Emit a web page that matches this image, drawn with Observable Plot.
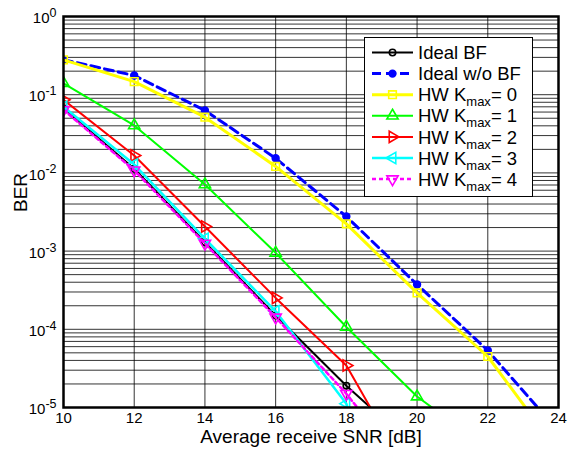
<!DOCTYPE html>
<html><head><meta charset="utf-8">
<script src="https://cdn.jsdelivr.net/npm/d3@7"></script>
<script src="https://cdn.jsdelivr.net/npm/@observablehq/plot@0.6"></script>
<style>body{margin:0;background:#fff;}</style>
</head><body><div id="chart"></div>
<script>
// ---- data ----
const snr = [10, 12, 14, 16, 18, 20, 22, 24];
const berIdealBF   = [0.067, 0.0113, 0.0013, 1.5e-4, 1.9e-5, 2.9e-6];
const berIdealNoBF = [0.28, 0.176, 0.063, 0.0154, 0.00277, 3.74e-4, 5.36e-5, 4.95e-6];
const berHW0 = [0.279, 0.147, 0.0516, 0.0121, 0.00223, 2.92e-4, 4.49e-5, 2.7e-6];
const berHW1 = [0.14, 0.0404, 0.0071, 9.5e-4, 1.07e-4, 1.38e-5, 3e-6];
const berHW2 = [0.086, 0.0167, 0.00206, 2.52e-4, 3.44e-5, 9e-7];
const berHW3 = [0.07, 0.0128, 0.00144, 1.7e-4, 1.12e-5, 1e-8];
const berHW4 = [0.064, 0.0108, 0.00125, 1.42e-4, 1.5e-5, 1.1e-6];

const legendNames = ["Ideal BF", "Ideal w/o BF", "HW K|0", "HW K|1", "HW K|2", "HW K|3", "HW K|4"];
const xTicks = [10, 12, 14, 16, 18, 20, 22, 24];
const yTicks = [1, 1e-1, 1e-2, 1e-3, 1e-4, 1e-5];
const yExp = ["0", "-1", "-2", "-3", "-4", "-5"];
const yGridMant = [1, 2, 3, 4, 5, 6, 7, 8, 9];

// ---- styles ----
const styles = [
  {data: berIdealBF,   color: "#000000", width: 2,   dash: null,  symbol: "circle",   fill: "none",    r: 3.2, rotate: 0},
  {data: berIdealNoBF, color: "#0000ff", width: 3,   dash: "9,5", symbol: "circle",   fill: "#0000ff", r: 3.4, rotate: 0},
  {data: berHW0,       color: "#ffff00", width: 3,   dash: null,  symbol: "square",   fill: "none",    r: 4.3, rotate: 0},
  {data: berHW1,       color: "#00ff00", width: 2,   dash: null,  symbol: "triangle", fill: "none",    r: 4.2, rotate: 0},
  {data: berHW2,       color: "#ff0000", width: 2,   dash: null,  symbol: "triangle", fill: "none",    r: 4.2, rotate: 90},
  {data: berHW3,       color: "#00ffff", width: 2.5, dash: null,  symbol: "triangle", fill: "none",    r: 4.2, rotate: -90},
  {data: berHW4,       color: "#ff00ff", width: 2.5, dash: "4,3", symbol: "triangle", fill: "none",    r: 4.2, rotate: 180}
];

const rowsOf = vals => vals.map((v, i) => ({x: snr[i], y: v}));
const yGrid = [];
for (let k = -5; k <= -1; k++) for (const m of yGridMant) yGrid.push(m * Math.pow(10, k));
yGrid.push(1);

const seriesMarks = [];
for (const s of styles) {
  const rows = rowsOf(s.data);
  seriesMarks.push(Plot.line(rows, {x: "x", y: "y", stroke: s.color, strokeWidth: s.width,
    strokeDasharray: s.dash || undefined, clip: true}));
  seriesMarks.push(Plot.dot(rows, {x: "x", y: "y", symbol: s.symbol, r: s.r, stroke: s.color,
    fill: s.fill, strokeWidth: 1.6, rotate: s.rotate, clip: true}));
}

const chart = Plot.plot({
  width: 574, height: 450,
  marginLeft: 63, marginRight: 16, marginTop: 16, marginBottom: 43,
  style: {fontFamily: "'Liberation Sans', Arial, sans-serif", background: "#fff", color: "#000"},
  x: {domain: [10, 24]},
  y: {type: "log", domain: [1e-5, 1]},
  marks: [
    Plot.ruleY(yGrid, {stroke: "#000", strokeOpacity: 0.8, strokeWidth: 1}),
    Plot.ruleX(xTicks, {stroke: "#000", strokeOpacity: 0.8, strokeWidth: 1}),
    ...seriesMarks,
    Plot.frame({stroke: "#000", strokeWidth: 2.5}),
    Plot.axisX(xTicks, {tickSize: 0, tickPadding: 5, label: null, tickFormat: d => String(d)}),
    Plot.axisY(yTicks, {tickSize: 0, tickPadding: 7, label: null,
      tickFormat: d => "10^" + yExp[yTicks.indexOf(d)]}),
    Plot.text(["Average receive SNR [dB]"], {frameAnchor: "bottom", dy: 35, fontSize: 19, text: d => d}),
    Plot.text(["BER"], {frameAnchor: "left", dx: -43, rotate: -90, fontSize: 19, text: d => d})
  ]
});
document.getElementById("chart").appendChild(chart);

const svg = d3.select(chart);
svg.selectAll('[aria-label="x-axis tick label"]').attr("font-size", 15);
svg.selectAll('[aria-label="x-axis tick label"] text').attr("font-size", 15);
// superscript exponents on y tick labels
svg.selectAll('[aria-label="y-axis tick label"]').attr("font-size", 15);
svg.selectAll('[aria-label="y-axis tick label"] text').each(function () {
  const t = this.textContent;
  if (!t.includes("^")) return;
  const [base, ex] = t.split("^");
  const sel = d3.select(this);
  sel.attr("font-size", 15).attr("y", "0.45em");
  sel.text(null);
  sel.append("tspan").text(base);
  sel.append("tspan").attr("dy", "-0.5em").attr("font-size", 12.5).text(ex);
});

// legend
const lg = svg.append("g").attr("font-family", "'Liberation Sans', Arial, sans-serif")
  .attr("text-anchor", "start");
lg.append("rect").attr("x", 364.5).attr("y", 37.5).attr("width", 168).attr("height", 159)
  .attr("fill", "#fff").attr("stroke", "#000").attr("stroke-width", 1);
const symMap = {circle: d3.symbolCircle, square: d3.symbolSquare, triangle: d3.symbolTriangle};
styles.forEach((s, i) => {
  const yy = 52.5 + i * 21.1;
  lg.append("line").attr("x1", 372).attr("x2", 413).attr("y1", yy).attr("y2", yy)
    .attr("stroke", s.color).attr("stroke-width", s.width).attr("stroke-dasharray", s.dash);
  lg.append("path").attr("d", d3.symbol(symMap[s.symbol], Math.PI * s.r * s.r)())
    .attr("transform", `translate(392.5,${yy}) rotate(${s.rotate})`)
    .attr("fill", s.fill).attr("stroke", s.color).attr("stroke-width", 1.6);
  const txt = lg.append("text").attr("x", 418).attr("y", yy).attr("dy", "0.36em")
    .attr("font-size", 18.5).attr("fill", "#000").attr("text-anchor", "start");
  const name = legendNames[i];
  if (name.includes("|")) {
    const [pre, k] = name.split("|");
    txt.append("tspan").text(pre);
    txt.append("tspan").attr("font-size", 13).attr("dy", 5).text("max");
    txt.append("tspan").attr("dy", -5).text("= " + k);
  } else {
    txt.text(name);
  }
});
</script>
</body></html>
